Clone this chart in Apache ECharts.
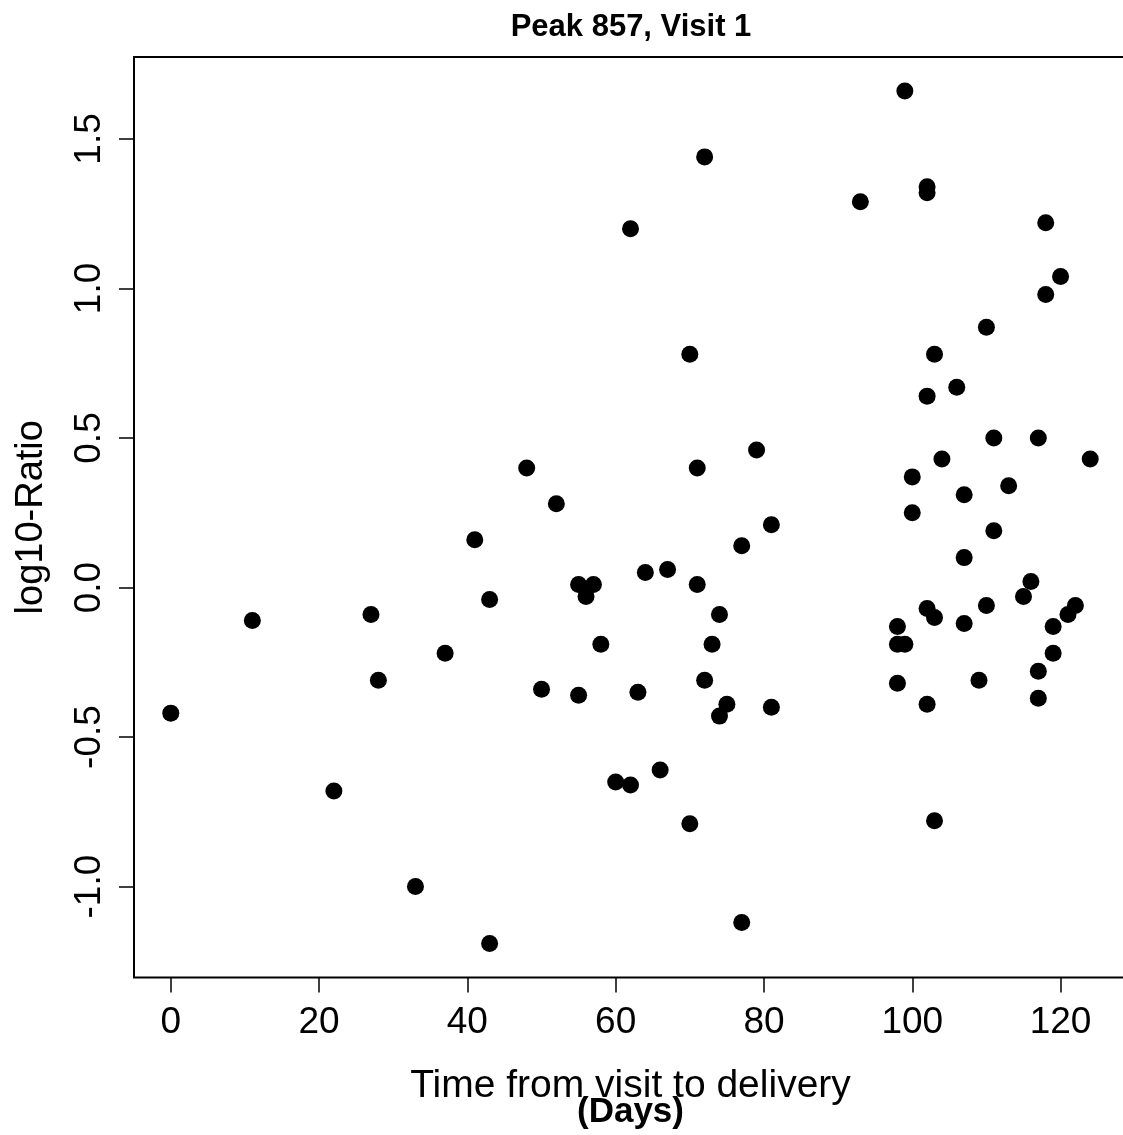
<!DOCTYPE html>
<html>
<head>
<meta charset="utf-8">
<script src="https://cdn.jsdelivr.net/npm/echarts@6/dist/echarts.min.js"></script>
<style>
  html, body { margin: 0; padding: 0; background: #fff; overflow: hidden; }
  /* 比窗口略宽，右边框落在画面之外（与原图一致） */
  #chartWrap { width: 1140px; height: 1135px; }
</style>
</head>
<body>
<div id="chartWrap"></div>
<script>
// 数据：天数 / log10 比值
var days = [0, 11, 22, 27, 28, 33, 37, 41, 43, 43, 48, 50, 52, 55, 55, 56, 57, 58, 60, 62,
  62, 63, 64, 66, 67, 70, 70, 71, 71, 72, 72, 73, 74, 74, 75, 77, 77, 79, 81, 81,
  93, 98, 98, 98, 99, 99, 100, 100, 102, 102, 102, 102, 102, 103, 103, 103, 104, 106, 107, 107,
  107, 109, 110, 110, 111, 111, 113, 115, 116, 117, 117, 117, 118, 118, 119, 119, 120, 121, 122, 124];
var ratios = [-0.42, -0.11, -0.68, -0.09, -0.31, -1.00, -0.22, 0.16, -0.04, -1.19, 0.40, -0.34, 0.28, 0.01, -0.36, -0.03, 0.01, -0.19, -0.65, 1.20,
  -0.66, -0.35, 0.05, -0.61, 0.06, 0.78, -0.79, 0.40, 0.01, 1.44, -0.31, -0.19, -0.09, -0.43, -0.39, -1.12, 0.14, 0.46, 0.21, -0.40,
  1.29, -0.13, -0.19, -0.32, 1.66, -0.19, 0.25, 0.37, 1.34, 1.32, 0.64, -0.07, -0.39, 0.78, -0.10, -0.78, 0.43, 0.67, 0.31, 0.10,
  -0.12, -0.31, 0.87, -0.06, 0.50, 0.19, 0.34, -0.03, 0.02, 0.50, -0.28, -0.37, 1.22, 0.98, -0.13, -0.22, 1.04, -0.09, -0.06, 0.43];
var xTicks = [0, 20, 40, 60, 80, 100, 120];
var yTicks = [-1.0, -0.5, 0.0, 0.5, 1.0, 1.5];

var FONT = 'Liberation Sans, Arial, Helvetica, sans-serif';

var points = [];
for (var i = 0; i < days.length; i++) {
  points.push([days[i], ratios[i]]);
}

var myChart = echarts.init(document.getElementById('chartWrap'), null, { renderer: 'canvas' });
myChart.setOption({
  animation: false,
  backgroundColor: '#fff',
  title: {
    text: 'Peak 857, Visit 1',
    left: 626,
    textAlign: 'center',
    top: 7,
    textStyle: { fontFamily: FONT, fontSize: 31, fontWeight: 'bold', color: '#000' }
  },
  grid: {
    left: 134,
    top: 57,
    width: 993,
    height: 921,
    show: true,
    borderColor: '#000',
    borderWidth: 2,
    backgroundColor: 'transparent'
  },
  xAxis: {
    type: 'value',
    min: -4.96,
    max: 128.96,
    splitLine: { show: false },
    axisLine: { show: false, onZero: false },
    axisTick: { show: true, length: 15, lineStyle: { color: '#000', width: 1.5 }, customValues: xTicks },
    axisLabel: {
      customValues: xTicks,
      margin: 27,
      fontFamily: FONT, fontSize: 37, color: '#000'
    },
    name: '{a|Time from visit to delivery}\n{b|(Days)}',
    nameLocation: 'middle',
    nameGap: 95,
    nameTextStyle: {
      fontFamily: FONT,
      color: '#000',
      rich: {
        a: { fontFamily: FONT, fontSize: 39, lineHeight: 28, color: '#000' },
        b: { fontFamily: FONT, fontSize: 35, fontWeight: 'bold', lineHeight: 24, color: '#000' }
      }
    }
  },
  yAxis: {
    type: 'value',
    min: -1.304,
    max: 1.774,
    splitLine: { show: false },
    axisLine: { show: false, onZero: false },
    axisTick: { show: true, length: 15, lineStyle: { color: '#000', width: 1.5 }, customValues: yTicks },
    axisLabel: {
      customValues: yTicks,
      rotate: 90,
      margin: 26,
      fontFamily: FONT, fontSize: 37, color: '#000',
      formatter: function (v) { return v.toFixed(1); }
    },
    name: 'log10-Ratio',
    nameLocation: 'middle',
    nameRotate: 90,
    nameGap: 83,
    nameTextStyle: { fontFamily: FONT, fontSize: 38, color: '#000' }
  },
  series: [{
    type: 'scatter',
    data: points,
    symbol: 'circle',
    symbolSize: 17,
    itemStyle: { color: '#000', opacity: 1 },
    clip: false
  }]
});
</script>
</body>
</html>
